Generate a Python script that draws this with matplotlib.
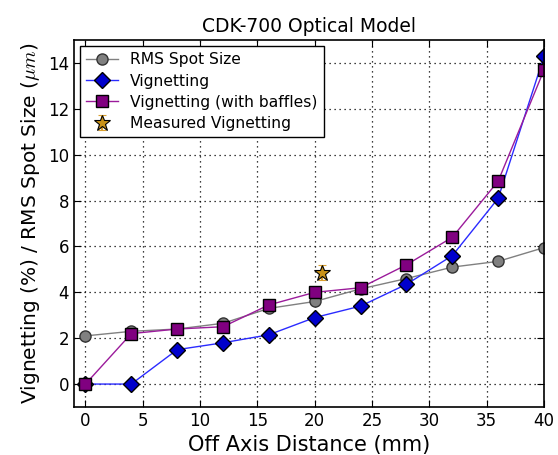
import numpy as np
import matplotlib
matplotlib.use('Agg')
import matplotlib.pyplot as plt

# off axis distance (mm)
dist = [0, 4, 8, 12, 16, 20, 24, 28, 32, 36, 40]
rms_spot = [2.1, 2.3, 2.4, 2.65, 3.3, 3.6, 4.15, 4.6, 5.1, 5.35, 5.95]
vignetting = [0, 0, 1.5, 1.8, 2.15, 2.9, 3.4, 4.35, 5.6, 8.1, 14.3]
vignetting_baffles = [0, 2.2, 2.4, 2.5, 3.45, 4.0, 4.2, 5.2, 6.4, 8.85, 13.7]

# measured point
meas_dist = [20.6]
meas_vign = [4.85]
meas_err = [0.32]

plt.rcParams['xtick.direction'] = 'in'
plt.rcParams['ytick.direction'] = 'in'
plt.rcParams['xtick.top'] = True
plt.rcParams['ytick.right'] = True
plt.rcParams['xtick.major.size'] = 5
plt.rcParams['ytick.major.size'] = 5
plt.rcParams['mathtext.fontset'] = 'cm'

fig = plt.figure(figsize=(5.58, 4.55), dpi=100)
ax = fig.add_axes([0.1326, 0.1055, 0.8424, 0.8065])

ax.plot(dist, rms_spot, color='gray', marker='o', markersize=8, markerfacecolor='gray',
        markeredgecolor='#333333', lw=1, label='RMS Spot Size')
ax.plot(dist, vignetting, color='#2b2bff', marker='D', markersize=8.5, markerfacecolor='#0000cc',
        markeredgecolor='black', lw=1, label='Vignetting')
ax.plot(dist, vignetting_baffles, color='#9b1b9b', marker='s', markersize=8, markerfacecolor='#800080',
        markeredgecolor='black', lw=1, label='Vignetting (with baffles)')
ax.errorbar(meas_dist, meas_vign, yerr=meas_err, fmt='*', color='#c8921a', ecolor='#d9a030',
            markersize=12, markeredgecolor='black', markeredgewidth=0.8, capsize=3,
            label='Measured Vignetting')

ax.set_xlim(-1, 40)
ax.set_ylim(-1, 15)
ax.set_xticks(np.arange(0, 41, 5))
ax.set_yticks(np.arange(0, 15, 2))
ax.tick_params(labelsize=12)
ax.grid(True, color='black', linestyle=(0, (1, 3)), linewidth=0.9)
for s in ax.spines.values():
    s.set_linewidth(1.2)

ax.set_title('CDK-700 Optical Model', fontsize=13.5)
ax.set_xlabel('Off Axis Distance (mm)', fontsize=15)
ax.set_ylabel(r'Vignetting (%) / RMS Spot Size ($\mu m$)', fontsize=14.5)

leg = ax.legend(loc='upper left', fontsize=11.2, numpoints=1, fancybox=False,
                framealpha=1, edgecolor='black', borderaxespad=0.4, labelspacing=0.4)
leg.get_frame().set_linewidth(1)

plt.savefig('out.png', dpi=100)
